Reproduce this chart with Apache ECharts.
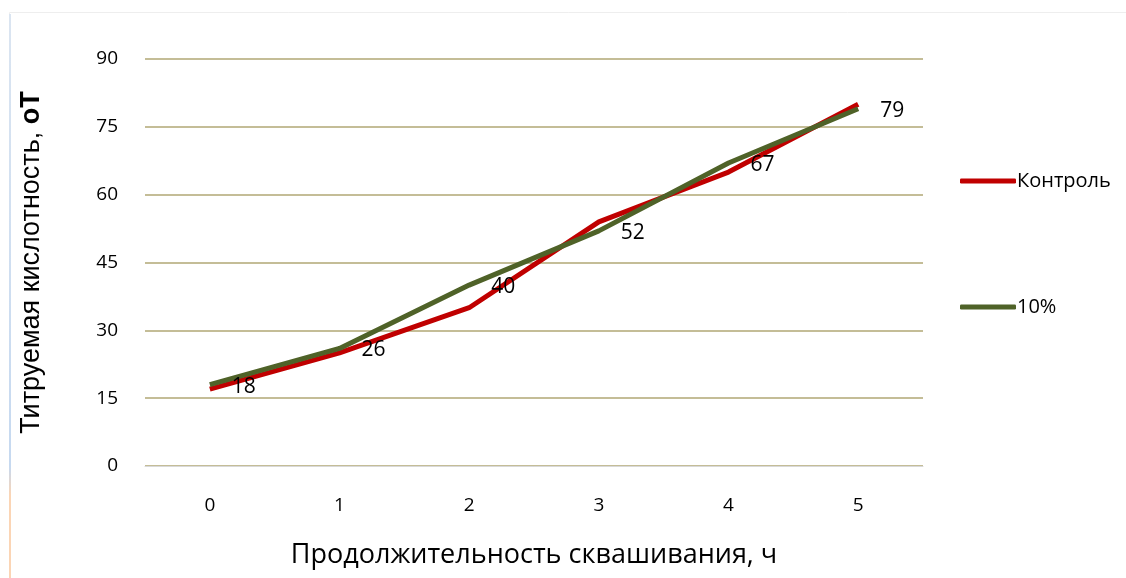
<!DOCTYPE html>
<html>
<head>
<meta charset="utf-8">
<script src="https://cdn.jsdelivr.net/npm/echarts@6/dist/echarts.min.js"></script>
<style>
 html,body{margin:0;padding:0;background:#fff;}
 #chart{width:1126px;height:578px;}
</style>
</head>
<body>
<div id="chart"></div>
<script>
// данные
var hours=['0','1','2','3','4','5'];
var control=[17,25,35,54,65,80];
var tenPct=[18,26,40,52,67,79];
var yTicks={min:0,max:90,interval:15};

var font='"Open Sans","Noto Sans",sans-serif';
var arial='"Liberation Sans",Arial,sans-serif';
var chart=echarts.init(document.getElementById('chart'));
var option={
 animation:false,
 textStyle:{fontFamily:font},
 graphic:[
  {type:'rect',shape:{x:9.5,y:12.5,width:1130,height:580},style:{fill:'none',stroke:'#eeeeee',lineWidth:1}},
  {type:'line',shape:{x1:10,y1:14,x2:10,y2:578},style:{stroke:new echarts.graphic.LinearGradient(0,0,0,1,[{offset:0,color:'#dbe5f1'},{offset:0.8,color:'#c6d9f0'},{offset:0.85,color:'#fbd5b5'},{offset:1,color:'#fbd5b5'}]),lineWidth:2}}
 ],
 grid:{left:145,right:203,top:59,bottom:112,outerBoundsMode:'none'},
 legend:{
  orient:'vertical',left:955,top:166,
  itemWidth:56,itemHeight:5,itemGap:106,
  icon:'roundRect',
  textStyle:{fontSize:20,color:'#000',fontFamily:font,padding:[0,0,0,-4]},
  data:['Контроль','10%']
 },
 xAxis:{
  type:'category',
  data:hours,
  boundaryGap:true,
  axisLine:{lineStyle:{color:'#d9d9d9',width:1}},
  axisTick:{show:false},
  axisLabel:{fontSize:19,color:'#000',fontFamily:font,margin:30},
  name:'Продолжительность сквашивания, ч',
  nameLocation:'middle',nameGap:76,
  nameTextStyle:{fontSize:27,color:'#000',fontFamily:font}
 },
 yAxis:{
  type:'value',
  min:yTicks.min,max:yTicks.max,interval:yTicks.interval,
  axisLine:{show:false},
  axisTick:{show:false},
  axisLabel:{fontSize:19,color:'#000',fontFamily:font,margin:27},
  splitLine:{lineStyle:{color:'#c4bd97',width:2}},
  name:'Титруемая кислотность, {b|оТ}',
  nameLocation:'middle',nameGap:100,
  nameTextStyle:{fontSize:27,color:'#000',fontFamily:arial,
   rich:{b:{fontSize:27,fontWeight:'bold',color:'#000',fontFamily:arial}}}
 },
 series:[
  {
   name:'Контроль',type:'line',data:control,
   symbol:'none',
   lineStyle:{color:'#c00000',width:5},
   itemStyle:{color:'#c00000'}
  },
  {
   name:'10%',type:'line',data:tenPct,
   symbol:'circle',symbolSize:0,showSymbol:true,
   lineStyle:{color:'#4f6228',width:5},
   itemStyle:{color:'#4f6228'},
   label:{show:true,position:'right',distance:22,offset:[0,2],fontSize:21,color:'#000',fontFamily:font}
  }
 ]
};
chart.setOption(option);
</script>
</body>
</html>
